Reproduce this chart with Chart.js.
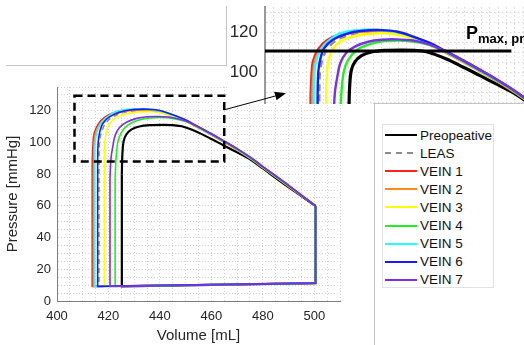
<!DOCTYPE html>
<html>
<head>
<meta charset="utf-8">
<script src="https://cdn.jsdelivr.net/npm/chart.js@4.4.0/dist/chart.umd.min.js"></script>
<style>
    html, body { margin: 0; padding: 0; background: #fff; overflow: hidden; }
    body { width: 524px; height: 345px; font-family: "Liberation Sans", Arial, sans-serif; }
    #stage { position: relative; width: 524px; height: 345px; overflow: hidden; }
    #mainChart { position: absolute; left: 0; top: 80px; }
    #insetChart { position: absolute; left: 228px; top: 0; background: #fff; }
    #cornerBox { position: absolute; left: 6px; top: 6px; width: 220px; height: 59px;
        border-right: 1px solid #c4c4c4; border-bottom: 1px solid #c4c4c4; }
    #legendPanel { position: absolute; left: 374px; top: 103px; width: 160px; height: 260px;
        background: #fff; border-left: 1px solid #c4c4c4; border-top: 1px solid #c4c4c4; }
    #legendBox { position: absolute; left: 382px; top: 124px; width: 110px; height: 162px;
        border: 1px solid #e2e2e2; background: #fff; }
    .row { position: absolute; left: 0; height: 18px; display: flex; align-items: center; }
    .sample { width: 32px; height: 2px; margin-left: 2px; margin-right: 3px; }
    .row span { font-size: 13.5px; color: #111; white-space: nowrap; }
    #pmax { position: absolute; left: 466px; top: 24px; font-weight: bold; font-size: 18px;
        line-height: 18px; color: #000; white-space: nowrap; }
    #pmax .sub { font-size: 13px; vertical-align: -4px; }
    #overlay { position: absolute; left: 0; top: 0; pointer-events: none; }
</style>
</head>
<body>
<div id="stage">
    <canvas id="mainChart" width="345" height="265"></canvas>
    <div id="cornerBox"></div>
    <canvas id="insetChart" width="296" height="104"></canvas>
    <div id="pmax">P<span class="sub">max, preop</span></div>
    <div id="legendPanel"></div>
    <div id="legendBox"></div>
    <canvas id="overlay" width="524" height="345"></canvas>
</div>
<script>
// Данные: [объём мл, давление мм рт. ст.]
const preop = [[500.5,11.3],[500.5,60],[490,71.8],[480,83.6],[475.6,88.8],[469.6,94.1],[464.6,98.3],[459.6,102.5],[454.5,106.6],[448.5,110.2],[445,110.9],[441,111.1],[436,110.9],[432,110.1],[429,108.3],[427,105.2],[425.9,100.8],[425.4,92],[425.2,80],[425.2,9.2]];
const leas = [[500.5,11.3],[500.5,60],[490,72.6],[480,84.4],[475.6,89.7],[469.6,96],[464.6,100.8],[459.6,105.4],[453.5,110.8],[449.5,114.2],[444.5,117.3],[439.5,119.6],[435,120.3],[430,120],[426,118.9],[421.3,115.8],[418.6,111.3],[417.2,106],[416.5,100],[416.3,89],[416.3,9.2]];
const vein1 = [[500.5,11.3],[500.5,60],[490,72.6],[480,84.4],[475.6,89.7],[469.6,96],[464.6,100.8],[459.6,105.4],[453.5,110.8],[449.5,114.2],[444.5,117.3],[439.5,119.7],[434.5,120.7],[428,120.5],[422.5,119],[418.5,115.8],[416,111.6],[414.4,105.5],[414,99],[413.7,89],[413.7,9.2]];
const vein2 = [[500.5,11.3],[500.5,60],[490,72.2],[480,84],[475.6,89.3],[469.6,95.6],[464.6,100.4],[459.6,105],[453.5,110.4],[449.5,113.8],[444.5,116.9],[439.5,119.3],[434.5,120.3],[428.5,120],[423,118.5],[419,115.3],[416.6,111.2],[415,105.8],[414.5,99.5],[414.2,89],[414.2,9.2]];
const vein3 = [[500.5,11.3],[500.5,60],[490,72.6],[480,84.4],[475.6,89.7],[469.6,96],[464.6,100.8],[459.6,105.4],[453.5,110.7],[449.5,113.9],[444.5,116.8],[440,118.7],[436,119.4],[431.5,119.2],[427.5,118.2],[423,115.8],[420.2,111.2],[419.1,106],[418.6,100],[418.4,89],[418.4,9.2]];
const vein4 = [[500.5,11.3],[500.5,60],[490,72.6],[480,84.4],[475.6,89.7],[469.6,96],[464.6,100.8],[459.6,105.4],[455,109.5],[450,113.3],[445,115.2],[440.5,115.8],[436,115.5],[431.5,114],[427.5,111],[425,106.2],[423.7,100.5],[423,91],[422.6,78],[422.6,9.2]];
const vein5 = [[500.5,11.3],[500.5,60],[490,72.8],[480,84.6],[475.6,89.9],[469.6,96.2],[464.6,101],[459.6,105.6],[453.5,111],[449.5,114.4],[444.5,117.5],[439.5,120.1],[433,121.2],[428,121],[423,119.6],[419.5,116.2],[417,112],[415.5,106.3],[414.8,100],[414.6,89],[414.6,9.2]];
const vein6 = [[500.5,11.3],[500.5,60],[490,73],[480,84.8],[475.6,90.1],[469.6,96.4],[464.6,101.2],[459.6,105.8],[453.5,111.2],[449.5,114.6],[444.5,117.8],[439.5,120.3],[435,121],[429.5,120.7],[425,119.4],[420.4,116.2],[417.8,112],[416.6,106.5],[416,100],[415.8,89],[415.8,9.2]];
const vein7 = [[500.5,11.3],[500.5,60],[490,73],[480,84.8],[475.6,90.1],[469.6,96.4],[464.6,101.2],[459.6,105.8],[453.5,111],[449.5,113.8],[444.5,115.8],[439.5,116.4],[435,116.2],[431,115.2],[427,112.8],[424.3,109.5],[422.6,104.5],[421.8,98.5],[421,90],[420.6,78],[420.6,9.2]];

const seriesNames = ['Preopeative', 'LEAS', 'VEIN 1', 'VEIN 2', 'VEIN 3', 'VEIN 4', 'VEIN 5', 'VEIN 6', 'VEIN 7'];
const seriesData = [preop, leas, vein1, vein2, vein3, vein4, vein5, vein6, vein7];
const seriesColors = ['#000000', '#8c8c8c', '#ff2020', '#ff8a1a', '#ffff00', '#22ee22', '#22ffff', '#1a1aff', '#7b2fe6'];

// Оси
const xTicks = [400, 420, 440, 460, 480, 500];
const yTicks = [0, 20, 40, 60, 80, 100, 120];
const insetYTicks = [100, 120];

// Рамка увеличения, линия Pmax и стрелка
const zoomBoxVolume = [406.8, 465];
const zoomBoxPressure = [88, 129.5];
const pmaxLine = [[400, 110.6], [474, 110.6]];
const arrowFrom = [465, 120.6];   // в координатах основного графика
const arrowTo = [406.3, 89.6];    // в координатах вставки

Chart.defaults.font.family = '"Liberation Sans", Arial, sans-serif';

function buildDatasets(lineWidth, blackWidth, dash) {
    const out = [];
    seriesData.forEach((arr, i) => {
        const pts = arr.map(([x, y]) => ({ x, y }));
        const n = pts.length;
        const common = {
            showLine: true,
            pointRadius: 0,
            borderColor: seriesColors[i],
            borderWidth: i === 0 ? blackWidth : lineWidth,
            borderDash: i === 1 ? dash : [],
            fill: false,
            order: seriesData.length - i + 1
        };
        // кривая выброса — сглаженная, прямые участки — без сглаживания
        out.push({ ...common, data: pts.slice(1, n - 1), tension: 0.35 });
        out.push({ ...common, data: [pts[n - 2], pts[n - 1], pts[0], pts[1]], tension: 0 });
    });
    return out;
}

// фиксированный размер оси без запаса под подписи
function fixScale(size) {
    return s => {
        if (s.isHorizontal()) s.height = size; else s.width = size;
        s.paddingTop = 0; s.paddingBottom = 0; s.paddingLeft = 0; s.paddingRight = 0;
    };
}

const zoomBoxPlugin = {
    id: 'zoomBox',
    afterDatasetsDraw(chart) {
        const { ctx, scales: { x, y } } = chart;
        const x0 = x.getPixelForValue(zoomBoxVolume[0]);
        const x1 = x.getPixelForValue(zoomBoxVolume[1]);
        const y0 = y.getPixelForValue(zoomBoxPressure[1]);
        const y1 = y.getPixelForValue(zoomBoxPressure[0]);
        ctx.save();
        ctx.strokeStyle = '#000';
        ctx.lineWidth = 2.5;
        ctx.setLineDash([8, 5]);
        ctx.strokeRect(x0, y0, x1 - x0, y1 - y0);
        ctx.restore();
    }
};

const gridStyle = { color: '#d2d2d2', drawTicks: false };

const mainChart = new Chart(document.getElementById('mainChart'), {
    type: 'scatter',
    data: { datasets: buildDatasets(1.6, 2.2, [5, 4]) },
    options: {
        responsive: false,
        animation: false,
        events: [],
        layout: { padding: { top: 7, right: 5, left: 0, bottom: 0 } },
        plugins: { legend: { display: false }, tooltip: { enabled: false } },
        scales: {
            x: {
                type: 'linear', min: 400, max: 510,
                afterFit: fixScale(44),
                ticks: { stepSize: 5, autoSkip: false, maxRotation: 0, padding: 8, color: '#262626',
                    font: { size: 13 }, callback: v => xTicks.includes(v) ? v : '' },
                grid: gridStyle,
                border: { color: '#808080', width: 1, dash: [1, 2] },
                title: { display: true, text: 'Volume [mL]', color: '#262626', font: { size: 15 },
                    padding: { top: 0, bottom: 0 } }
            },
            y: {
                type: 'linear', min: 0, max: 135,
                afterFit: fixScale(57),
                ticks: { stepSize: 5, autoSkip: false, padding: 6, color: '#262626',
                    font: { size: 13 }, callback: v => yTicks.includes(v) ? v : '' },
                grid: gridStyle,
                border: { color: '#808080', width: 1, dash: [1, 2] },
                title: { display: true, text: 'Pressure [mmHg]', color: '#262626', font: { size: 15 },
                    padding: { top: 4, bottom: 0 } }
            }
        }
    },
    plugins: [zoomBoxPlugin]
});

const insetDatasets = buildDatasets(2.4, 3.2, [7, 5]);
insetDatasets.push({
    data: pmaxLine.map(([x, y]) => ({ x, y })),
    showLine: true, pointRadius: 0, borderColor: '#000', borderWidth: 3, order: 0
});

const insetChart = new Chart(document.getElementById('insetChart'), {
    type: 'scatter',
    data: { datasets: insetDatasets },
    options: {
        responsive: false,
        animation: false,
        events: [],
        layout: { padding: { top: 7, right: 0, left: 0, bottom: 0 } },
        plugins: { legend: { display: false }, tooltip: { enabled: false } },
        scales: {
            x: {
                type: 'linear', min: 400, max: 477.8,
                afterFit: fixScale(0),
                ticks: { display: false, stepSize: 2.5, autoSkip: false, includeBounds: false },
                grid: { color: '#d6d6d6', drawTicks: false },
                border: { display: false, dash: [1.5, 2.5] }
            },
            y: {
                type: 'linear', min: 84.2, max: 132.5,
                afterFit: fixScale(37),
                ticks: { stepSize: 5, autoSkip: false, includeBounds: false, padding: 7, color: '#262626',
                    font: { size: 17 }, callback: v => insetYTicks.includes(v) ? v : '' },
                grid: { color: '#d6d6d6', drawTicks: false },
                border: { color: '#9a9a9a', width: 2, dash: [1.5, 2.5] }
            }
        }
    }
});

// Легенда
const legendBox = document.getElementById('legendBox');
seriesNames.forEach((name, i) => {
    const row = document.createElement('div');
    row.className = 'row';
    row.style.top = (1 + i * 18.1) + 'px';
    const sample = document.createElement('div');
    sample.className = 'sample';
    if (i === 1) {
        sample.style.background = `repeating-linear-gradient(90deg, ${seriesColors[i]} 0 6px, transparent 6px 11px)`;
    } else {
        sample.style.background = seriesColors[i];
        if (i === 0) sample.style.height = '2.5px';
    }
    const label = document.createElement('span');
    label.textContent = name;
    row.appendChild(sample);
    row.appendChild(label);
    legendBox.appendChild(row);
});

// Стрелка от рамки к вставке
function drawArrow() {
    const ctx = document.getElementById('overlay').getContext('2d');
    const sx = mainChart.scales.x.getPixelForValue(arrowFrom[0]);
    const sy = mainChart.scales.y.getPixelForValue(arrowFrom[1]) + 80;
    const tx = insetChart.scales.x.getPixelForValue(arrowTo[0]) + 228;
    const ty = insetChart.scales.y.getPixelForValue(arrowTo[1]);
    const ang = Math.atan2(ty - sy, tx - sx);
    const len = 11, half = 4.5;
    const bx = tx - len * Math.cos(ang), by = ty - len * Math.sin(ang);
    ctx.strokeStyle = '#000';
    ctx.fillStyle = '#000';
    ctx.lineWidth = 1;
    ctx.beginPath();
    ctx.moveTo(sx, sy);
    ctx.lineTo(bx, by);
    ctx.stroke();
    ctx.beginPath();
    ctx.moveTo(tx, ty);
    ctx.lineTo(bx - half * Math.sin(ang), by + half * Math.cos(ang));
    ctx.lineTo(bx + half * Math.sin(ang), by - half * Math.cos(ang));
    ctx.closePath();
    ctx.fill();
}
drawArrow();
</script>
</body>
</html>
